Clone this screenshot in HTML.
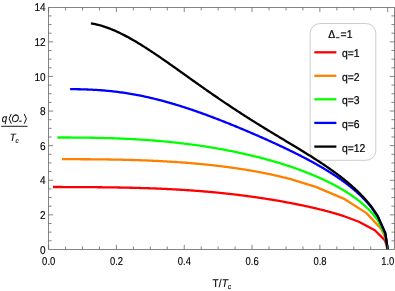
<!DOCTYPE html>
<html><head><meta charset="utf-8"><title>plot</title>
<style>
html,body{margin:0;padding:0;background:#fff;}
body{width:395px;height:291px;overflow:hidden;position:relative;font-family:"Liberation Sans",sans-serif;}
</style></head><body>
<svg width="395" height="291" viewBox="0 0 395 291" style="position:absolute;left:0;top:0;will-change:transform;filter:blur(0.35px)">
<rect width="395" height="291" fill="#fff"/><style>text{text-rendering:geometricPrecision}</style>
<rect x="310.2" y="23.55" width="65.6" height="136.75" rx="9.7" ry="9.7" fill="#fff" stroke="#cccccc" stroke-width="1"/>
<clipPath id="c"><rect x="48" y="7" width="347" height="243"/></clipPath>
<g clip-path="url(#c)" fill="none" stroke-width="2.3" stroke-linejoin="round">
<path d="M53.00,187.01 L54.68,187.01 L56.35,187.01 L58.01,187.02 L59.68,187.02 L61.34,187.02 L62.99,187.03 L64.64,187.03 L66.29,187.03 L67.93,187.04 L69.57,187.04 L71.20,187.05 L72.83,187.06 L74.45,187.06 L76.08,187.07 L77.69,187.08 L79.30,187.09 L80.91,187.10 L82.52,187.10 L84.12,187.11 L85.71,187.12 L87.30,187.14 L88.89,187.15 L90.47,187.16 L92.05,187.17 L93.63,187.18 L95.20,187.20 L96.77,187.21 L98.33,187.23 L99.89,187.24 L101.44,187.26 L102.99,187.28 L104.53,187.29 L106.07,187.31 L107.61,187.33 L109.14,187.35 L110.67,187.37 L112.20,187.40 L113.72,187.42 L115.23,187.44 L116.74,187.47 L118.25,187.49 L119.75,187.52 L121.25,187.54 L122.75,187.57 L124.24,187.60 L125.73,187.63 L127.21,187.66 L128.69,187.70 L130.16,187.73 L131.63,187.76 L133.09,187.80 L134.56,187.83 L136.01,187.87 L137.46,187.91 L138.91,187.95 L140.36,187.99 L141.80,188.03 L143.23,188.08 L144.67,188.12 L146.09,188.17 L147.52,188.21 L148.94,188.26 L150.35,188.31 L151.76,188.36 L153.17,188.41 L154.57,188.47 L155.97,188.52 L157.36,188.58 L158.75,188.64 L160.14,188.69 L161.52,188.75 L162.90,188.81 L164.27,188.88 L165.64,188.94 L167.00,189.01 L168.36,189.07 L169.72,189.14 L171.07,189.21 L172.42,189.28 L173.76,189.35 L175.10,189.42 L176.43,189.50 L177.77,189.57 L179.09,189.65 L180.41,189.73 L181.73,189.81 L183.05,189.89 L184.36,189.97 L185.66,190.06 L186.96,190.14 L188.26,190.23 L189.55,190.32 L190.84,190.41 L192.13,190.50 L193.41,190.59 L194.68,190.68 L195.96,190.78 L197.22,190.87 L198.49,190.97 L199.75,191.07 L201.00,191.17 L202.25,191.27 L203.50,191.37 L204.74,191.48 L205.98,191.58 L207.21,191.69 L208.44,191.80 L209.67,191.90 L210.89,192.01 L212.11,192.13 L213.32,192.24 L214.53,192.35 L215.73,192.47 L216.93,192.58 L218.13,192.70 L219.32,192.82 L220.51,192.94 L221.69,193.06 L222.87,193.18 L224.05,193.31 L225.22,193.43 L226.39,193.55 L227.55,193.68 L228.71,193.81 L229.86,193.94 L231.01,194.07 L232.16,194.20 L233.30,194.33 L234.44,194.46 L235.57,194.60 L236.70,194.73 L237.82,194.87 L238.94,195.01 L240.06,195.14 L241.17,195.28 L242.28,195.42 L243.38,195.56 L244.48,195.70 L245.58,195.85 L246.67,195.99 L247.76,196.14 L248.84,196.28 L249.92,196.43 L250.99,196.57 L252.06,196.72 L253.13,196.87 L254.19,197.02 L255.25,197.17 L256.30,197.32 L257.35,197.47 L258.40,197.63 L259.44,197.78 L260.47,197.93 L261.51,198.09 L262.53,198.24 L263.56,198.40 L264.58,198.56 L265.59,198.72 L266.60,198.87 L267.61,199.03 L268.61,199.19 L269.61,199.35 L270.61,199.51 L271.60,199.68 L272.58,199.84 L273.56,200.00 L274.54,200.17 L275.52,200.33 L276.48,200.49 L277.45,200.66 L278.41,200.83 L279.37,200.99 L280.32,201.16 L281.27,201.33 L282.21,201.49 L283.15,201.66 L284.09,201.83 L285.02,202.00 L285.95,202.17 L286.87,202.34 L287.79,202.51 L288.70,202.68 L289.61,202.86 L290.52,203.03 L291.42,203.20 L292.32,203.37 L293.21,203.55 L294.10,203.72 L294.99,203.90 L295.87,204.07 L296.74,204.25 L297.62,204.42 L298.48,204.60 L299.35,204.78 L300.21,204.95 L301.06,205.13 L301.91,205.31 L302.76,205.49 L303.61,205.66 L304.44,205.84 L305.28,206.02 L306.11,206.20 L306.94,206.38 L307.76,206.56 L308.58,206.74 L309.39,206.92 L310.20,207.11 L311.00,207.29 L311.80,207.47 L312.60,207.65 L313.39,207.84 L314.18,208.02 L314.97,208.20 L315.75,208.39 L316.52,208.57 L317.29,208.75 L318.06,208.94 L318.82,209.12 L319.58,209.31 L320.34,209.50 L321.09,209.68 L321.83,209.87 L322.58,210.06 L323.31,210.24 L324.05,210.43 L324.78,210.62 L325.50,210.81 L326.22,211.00 L326.94,211.18 L327.65,211.37 L328.36,211.56 L329.07,211.75 L329.77,211.94 L330.46,212.13 L331.15,212.32 L331.84,212.52 L332.53,212.71 L333.20,212.90 L333.88,213.09 L334.55,213.29 L335.22,213.48 L335.88,213.67 L336.54,213.87 L337.19,214.06 L337.84,214.25 L338.49,214.45 L339.13,214.64 L339.76,214.84 L340.40,215.04 L341.03,215.23 L341.65,215.43 L342.27,215.63 L342.89,215.82 L343.50,216.02 L358.88,221.72 L374.81,230.27 L384.99,240.42 L387.70,249.45" stroke="#ff0000"/>
<path d="M62.00,159.18 L63.63,159.18 L65.26,159.18 L66.88,159.19 L68.50,159.19 L70.11,159.19 L71.72,159.19 L73.33,159.20 L74.93,159.20 L76.53,159.21 L78.12,159.21 L79.71,159.22 L81.30,159.23 L82.88,159.23 L84.46,159.24 L86.03,159.25 L87.60,159.26 L89.16,159.27 L90.72,159.28 L92.28,159.30 L93.83,159.31 L95.38,159.32 L96.93,159.34 L98.47,159.35 L100.00,159.37 L101.54,159.39 L103.06,159.41 L104.59,159.43 L106.11,159.45 L107.62,159.47 L109.14,159.49 L110.64,159.52 L112.15,159.54 L113.65,159.57 L115.14,159.60 L116.63,159.62 L118.12,159.65 L119.60,159.69 L121.08,159.72 L122.56,159.75 L124.03,159.79 L125.50,159.82 L126.96,159.86 L128.42,159.90 L129.87,159.94 L131.32,159.98 L132.77,160.02 L134.21,160.06 L135.65,160.11 L137.08,160.15 L138.51,160.20 L139.94,160.25 L141.36,160.30 L142.78,160.35 L144.19,160.41 L145.60,160.46 L147.01,160.52 L148.41,160.57 L149.81,160.63 L151.20,160.69 L152.59,160.75 L153.97,160.82 L155.36,160.88 L156.73,160.95 L158.11,161.01 L159.47,161.08 L160.84,161.15 L162.20,161.22 L163.56,161.30 L164.91,161.37 L166.26,161.45 L167.60,161.53 L168.94,161.61 L170.28,161.69 L171.61,161.77 L172.94,161.85 L174.26,161.94 L175.58,162.02 L176.89,162.11 L178.21,162.20 L179.51,162.29 L180.82,162.39 L182.12,162.48 L183.41,162.58 L184.70,162.67 L185.99,162.77 L187.27,162.87 L188.55,162.97 L189.82,163.08 L191.09,163.18 L192.36,163.29 L193.62,163.40 L194.88,163.51 L196.14,163.62 L197.39,163.73 L198.63,163.84 L199.87,163.96 L201.11,164.08 L202.34,164.20 L203.57,164.32 L204.80,164.44 L206.02,164.56 L207.24,164.69 L208.45,164.81 L209.66,164.94 L210.87,165.07 L212.07,165.20 L213.26,165.33 L214.46,165.47 L215.64,165.60 L216.83,165.74 L218.01,165.88 L219.19,166.02 L220.36,166.16 L221.53,166.30 L222.69,166.45 L223.85,166.59 L225.01,166.74 L226.16,166.89 L227.31,167.04 L228.45,167.19 L229.59,167.35 L230.72,167.50 L231.86,167.66 L232.98,167.82 L234.11,167.98 L235.23,168.14 L236.34,168.30 L237.45,168.46 L238.56,168.63 L239.66,168.79 L240.76,168.96 L241.85,169.13 L242.94,169.30 L244.03,169.48 L245.11,169.65 L246.19,169.82 L247.27,170.00 L248.34,170.18 L249.40,170.36 L250.46,170.54 L251.52,170.72 L252.57,170.91 L253.62,171.09 L254.67,171.28 L255.71,171.47 L256.75,171.65 L257.78,171.85 L258.81,172.04 L259.83,172.23 L260.86,172.43 L261.87,172.62 L262.89,172.82 L263.89,173.02 L264.90,173.22 L265.90,173.42 L266.90,173.62 L267.89,173.83 L268.88,174.03 L269.86,174.24 L270.84,174.45 L271.82,174.66 L272.79,174.87 L273.75,175.08 L274.72,175.29 L275.68,175.51 L276.63,175.72 L277.58,175.94 L278.53,176.16 L279.47,176.38 L280.41,176.60 L281.35,176.82 L282.28,177.04 L283.21,177.27 L284.13,177.50 L285.05,177.72 L285.96,177.95 L286.87,178.18 L287.78,178.41 L288.68,178.64 L289.58,178.88 L290.47,179.11 L291.36,179.35 L292.25,179.58 L315.81,186.83 L343.62,198.57 L366.51,213.11 L381.26,229.04 L385.67,237.91 L387.70,249.45" stroke="#ff8000"/>
<path d="M57.40,137.49 L59.05,137.49 L60.70,137.49 L62.35,137.49 L63.99,137.50 L65.63,137.50 L67.26,137.51 L68.89,137.52 L70.51,137.52 L72.13,137.53 L73.75,137.54 L75.36,137.55 L76.97,137.57 L78.57,137.58 L80.17,137.59 L81.77,137.61 L83.36,137.63 L84.95,137.65 L86.53,137.67 L88.11,137.69 L89.68,137.71 L91.25,137.74 L92.82,137.76 L94.38,137.79 L95.94,137.82 L97.49,137.85 L99.04,137.89 L100.59,137.92 L102.13,137.96 L103.67,138.00 L105.20,138.04 L106.73,138.08 L108.26,138.13 L109.78,138.17 L111.29,138.22 L112.81,138.27 L114.31,138.32 L115.82,138.38 L117.32,138.43 L118.81,138.49 L120.31,138.55 L121.79,138.61 L123.28,138.68 L124.76,138.75 L126.23,138.81 L127.70,138.88 L129.17,138.96 L130.63,139.03 L132.09,139.11 L133.54,139.19 L135.00,139.27 L136.44,139.35 L137.88,139.44 L139.32,139.53 L140.75,139.62 L142.18,139.71 L143.61,139.80 L145.03,139.90 L146.45,140.00 L147.86,140.10 L149.27,140.20 L150.67,140.30 L152.07,140.41 L153.47,140.52 L154.86,140.63 L156.25,140.75 L157.63,140.86 L159.01,140.98 L160.39,141.10 L161.76,141.22 L163.13,141.34 L164.49,141.47 L165.85,141.60 L167.21,141.73 L168.56,141.86 L169.90,142.00 L171.24,142.13 L172.58,142.27 L173.92,142.41 L175.25,142.56 L176.57,142.70 L177.89,142.85 L179.21,143.00 L180.53,143.15 L181.83,143.30 L183.14,143.46 L184.44,143.62 L185.74,143.78 L187.03,143.94 L188.32,144.10 L189.60,144.27 L190.88,144.43 L192.16,144.60 L193.43,144.77 L194.70,144.95 L195.96,145.12 L197.22,145.30 L198.48,145.48 L199.73,145.66 L200.97,145.84 L202.22,146.03 L203.46,146.21 L204.69,146.40 L205.92,146.59 L207.15,146.78 L208.37,146.98 L209.59,147.17 L210.80,147.37 L212.01,147.57 L213.21,147.77 L214.42,147.97 L215.61,148.18 L216.81,148.38 L217.99,148.59 L219.18,148.80 L220.36,149.01 L221.54,149.23 L222.71,149.44 L223.88,149.66 L225.04,149.87 L226.20,150.09 L227.36,150.32 L228.51,150.54 L229.65,150.76 L230.80,150.99 L231.94,151.22 L233.07,151.45 L234.20,151.68 L235.33,151.91 L236.45,152.14 L237.57,152.38 L238.68,152.61 L239.79,152.85 L240.90,153.09 L242.00,153.33 L243.10,153.58 L244.19,153.82 L245.28,154.07 L246.37,154.31 L247.45,154.56 L248.52,154.81 L249.60,155.06 L250.67,155.32 L251.73,155.57 L252.79,155.83 L253.85,156.08 L254.90,156.34 L255.95,156.60 L256.99,156.86 L258.03,157.12 L259.06,157.39 L260.10,157.65 L261.12,157.92 L262.15,158.19 L263.16,158.46 L264.18,158.73 L265.19,159.00 L266.20,159.27 L267.20,159.54 L268.20,159.82 L269.19,160.09 L270.18,160.37 L271.16,160.65 L272.15,160.93 L273.12,161.21 L274.10,161.49 L275.06,161.78 L276.03,162.06 L276.99,162.35 L277.95,162.63 L278.90,162.92 L279.85,163.21 L280.79,163.50 L281.73,163.79 L282.67,164.08 L283.60,164.38 L284.53,164.67 L285.45,164.97 L286.37,165.26 L287.28,165.56 L288.19,165.86 L289.10,166.16 L290.00,166.46 L290.90,166.76 L291.80,167.07 L292.69,167.37 L293.57,167.68 L294.45,167.98 L295.33,168.29 L296.20,168.60 L297.07,168.91 L297.94,169.22 L298.80,169.53 L299.66,169.84 L300.51,170.16 L301.36,170.47 L302.20,170.78 L303.04,171.10 L303.88,171.42 L304.71,171.74 L305.54,172.05 L306.36,172.37 L307.18,172.70 L308.00,173.02 L308.81,173.34 L309.62,173.66 L310.42,173.99 L311.22,174.31 L312.01,174.64 L312.80,174.97 L313.59,175.30 L314.37,175.63 L315.15,175.96 L315.92,176.29 L316.69,176.62 L317.46,176.95 L318.22,177.29 L318.98,177.62 L319.73,177.96 L320.48,178.29 L321.22,178.63 L321.96,178.97 L322.70,179.31 L323.43,179.65 L324.16,179.99 L324.89,180.33 L325.61,180.67 L326.32,181.01 L327.03,181.36 L327.74,181.70 L328.44,182.05 L329.14,182.39 L329.84,182.74 L330.53,183.09 L331.22,183.44 L331.90,183.79 L332.58,184.14 L333.25,184.49 L333.92,184.84 L334.59,185.19 L335.25,185.55 L335.91,185.90 L336.56,186.26 L337.21,186.61 L337.85,186.97 L338.50,187.33 L339.13,187.69 L339.77,188.05 L340.39,188.41 L341.02,188.77 L341.64,189.13 L342.25,189.49 L342.87,189.85 L343.47,190.22 L344.08,190.58 L344.68,190.95 L345.27,191.31 L345.87,191.68 L346.45,192.05 L347.04,192.42 L347.61,192.79 L348.19,193.16 L348.76,193.53 L349.33,193.90 L349.89,194.27 L350.45,194.64 L351.00,195.02 L351.55,195.39 L352.10,195.77 L352.64,196.14 L353.17,196.52 L353.71,196.89 L354.24,197.27 L354.76,197.65 L355.28,198.03 L355.80,198.41 L356.31,198.79 L356.82,199.17 L357.32,199.55 L357.82,199.94 L358.32,200.32 L358.81,200.70 L359.30,201.09 L359.78,201.47 L360.26,201.86 L360.74,202.25 L361.21,202.63 L361.67,203.02 L362.14,203.41 L362.60,203.80 L363.05,204.19 L363.50,204.58 L363.95,204.97 L364.39,205.36 L364.83,205.75 L365.26,206.15 L365.69,206.54 L366.11,206.93 L366.54,207.33 L366.95,207.73 L367.37,208.12 L367.77,208.52 L368.18,208.92 L368.58,209.31 L368.98,209.71 L369.37,210.11 L369.76,210.51 L370.14,210.91 L370.52,211.31 L370.89,211.71 L371.27,212.11 L371.63,212.52 L372.00,212.92 L372.36,213.32 L377.80,220.23 L385.33,235.00 L387.70,249.45" stroke="#00ff00"/>
<path d="M70.10,89.13 L71.69,89.14 L73.28,89.16 L74.86,89.18 L76.44,89.20 L78.01,89.23 L79.58,89.26 L81.15,89.29 L82.71,89.34 L84.27,89.38 L85.82,89.43 L87.37,89.49 L88.92,89.55 L90.46,89.62 L92.00,89.70 L93.53,89.78 L95.06,89.86 L96.59,89.95 L98.11,90.05 L99.63,90.16 L101.14,90.27 L102.65,90.39 L104.16,90.51 L105.66,90.64 L107.16,90.78 L108.65,90.92 L110.14,91.07 L111.63,91.23 L113.11,91.39 L114.59,91.56 L116.06,91.73 L117.53,91.91 L119.00,92.10 L120.46,92.30 L121.92,92.50 L123.38,92.71 L124.83,92.92 L126.27,93.14 L127.71,93.37 L129.15,93.60 L130.59,93.84 L132.02,94.08 L133.44,94.33 L134.87,94.59 L136.28,94.85 L137.70,95.12 L139.11,95.39 L140.52,95.67 L141.92,95.96 L143.32,96.24 L144.71,96.54 L146.10,96.84 L147.49,97.15 L148.87,97.46 L150.25,97.77 L151.62,98.09 L152.99,98.42 L154.36,98.75 L155.72,99.08 L157.08,99.42 L158.44,99.76 L159.79,100.11 L161.13,100.46 L162.48,100.82 L163.82,101.18 L165.15,101.54 L166.48,101.91 L167.81,102.28 L169.13,102.66 L170.45,103.03 L171.76,103.42 L173.07,103.80 L174.38,104.19 L175.68,104.58 L176.98,104.98 L178.28,105.37 L179.57,105.77 L180.85,106.18 L182.14,106.58 L183.42,106.99 L184.69,107.40 L185.96,107.81 L187.23,108.23 L188.49,108.65 L189.75,109.07 L191.00,109.49 L192.26,109.91 L193.50,110.34 L194.75,110.77 L195.98,111.20 L197.22,111.63 L198.45,112.06 L199.68,112.50 L200.90,112.93 L202.12,113.37 L203.33,113.81 L204.54,114.25 L205.75,114.69 L206.95,115.13 L208.15,115.57 L209.35,116.02 L210.54,116.46 L211.73,116.91 L212.91,117.36 L214.09,117.80 L215.26,118.25 L216.43,118.70 L217.60,119.15 L218.76,119.60 L219.92,120.05 L221.08,120.50 L222.23,120.95 L223.38,121.40 L224.52,121.86 L225.66,122.31 L226.79,122.76 L227.93,123.21 L229.05,123.67 L230.18,124.12 L231.29,124.57 L232.41,125.02 L233.52,125.48 L234.63,125.93 L235.73,126.38 L236.83,126.83 L237.93,127.29 L239.02,127.74 L240.10,128.19 L241.19,128.64 L242.27,129.09 L243.34,129.54 L244.41,129.99 L245.48,130.44 L246.54,130.89 L247.60,131.34 L248.66,131.79 L249.71,132.24 L250.76,132.69 L251.80,133.14 L252.84,133.59 L253.88,134.04 L254.91,134.48 L255.93,134.93 L256.96,135.37 L257.98,135.82 L258.99,136.27 L260.00,136.71 L261.01,137.15 L262.02,137.60 L263.01,138.04 L264.01,138.48 L265.00,138.92 L265.99,139.37 L266.97,139.81 L267.95,140.25 L268.93,140.69 L269.90,141.13 L270.87,141.57 L271.83,142.00 L272.79,142.44 L273.75,142.88 L274.70,143.32 L275.64,143.75 L276.59,144.19 L277.53,144.62 L278.46,145.06 L279.40,145.49 L280.32,145.93 L281.25,146.36 L282.17,146.79 L283.08,147.23 L283.99,147.66 L284.90,148.09 L285.81,148.52 L286.71,148.95 L287.60,149.38 L288.49,149.81 L289.38,150.24 L290.26,150.67 L291.14,151.10 L292.02,151.53 L292.89,151.96 L293.76,152.39 L294.62,152.81 L295.48,153.24 L296.34,153.67 L297.19,154.09 L298.04,154.52 L298.88,154.95 L299.72,155.37 L300.56,155.80 L301.39,156.22 L302.22,156.65 L303.04,157.08 L303.86,157.50 L304.68,157.93 L305.49,158.35 L306.30,158.77 L307.10,159.20 L307.90,159.62 L308.70,160.05 L309.49,160.47 L310.28,160.90 L311.06,161.32 L311.84,161.74 L312.62,162.17 L313.39,162.59 L314.16,163.02 L314.92,163.44 L315.68,163.86 L316.44,164.29 L317.19,164.71 L317.94,165.14 L318.68,165.56 L319.42,165.98 L320.16,166.41 L320.89,166.83 L321.62,167.26 L322.34,167.68 L323.06,168.11 L323.78,168.53 L324.49,168.96 L325.20,169.38 L325.90,169.81 L326.60,170.23 L327.30,170.66 L327.99,171.08 L328.68,171.51 L329.37,171.94 L330.05,172.36 L330.72,172.79 L331.39,173.22 L332.06,173.65 L332.73,174.07 L333.39,174.50 L334.04,174.93 L334.70,175.36 L335.34,175.79 L335.99,176.22 L336.63,176.64 L337.27,177.07 L337.90,177.50 L338.53,177.93 L339.15,178.37 L339.77,178.80 L340.39,179.23 L341.00,179.66 L341.61,180.09 L342.21,180.52 L342.81,180.96 L343.41,181.39 L344.00,181.82 L344.59,182.26 L345.18,182.69 L345.76,183.13 L346.33,183.56 L346.91,184.00 L347.47,184.43 L348.04,184.87 L348.60,185.31 L349.16,185.74 L349.71,186.18 L350.26,186.62 L350.80,187.06 L351.34,187.49 L351.88,187.93 L352.41,188.37 L352.94,188.81 L353.46,189.25 L353.99,189.69 L354.50,190.13 L355.01,190.58 L355.52,191.02 L356.03,191.46 L356.53,191.90 L357.03,192.35 L357.52,192.79 L358.01,193.23 L358.49,193.68 L358.97,194.12 L359.45,194.57 L359.92,195.01 L360.39,195.46 L360.86,195.91 L361.32,196.35 L361.77,196.80 L362.23,197.25 L362.68,197.69 L363.12,198.14 L363.56,198.59 L364.00,199.04 L364.43,199.49 L364.86,199.94 L365.28,200.39 L365.71,200.84 L366.12,201.29 L366.54,201.74 L366.94,202.19 L367.35,202.65 L367.75,203.10 L368.15,203.55 L368.54,204.00 L368.93,204.46 L369.31,204.91 L369.70,205.37 L370.07,205.82 L370.45,206.27 L370.81,206.73 L371.18,207.19 L371.54,207.64 L371.90,208.10 L372.25,208.55 L377.80,216.61 L385.33,233.31 L387.70,249.45" stroke="#0000ff"/>
<path d="M90.90,23.34 L92.39,23.59 L93.87,23.87 L95.35,24.17 L96.82,24.51 L98.29,24.87 L99.76,25.26 L101.22,25.68 L102.68,26.12 L104.14,26.58 L105.59,27.07 L107.04,27.58 L108.48,28.11 L109.93,28.66 L111.36,29.23 L112.80,29.82 L114.23,30.43 L115.65,31.05 L117.07,31.70 L118.49,32.36 L119.91,33.03 L121.32,33.72 L122.73,34.42 L124.13,35.14 L125.53,35.87 L126.93,36.61 L128.32,37.36 L129.71,38.13 L131.09,38.90 L132.48,39.69 L133.85,40.48 L135.23,41.29 L136.60,42.10 L137.96,42.92 L139.33,43.75 L140.69,44.58 L142.04,45.42 L143.39,46.27 L144.74,47.12 L146.09,47.98 L147.43,48.85 L148.76,49.71 L150.10,50.59 L151.42,51.46 L152.75,52.34 L154.07,53.22 L155.39,54.11 L156.70,55.00 L158.02,55.89 L159.32,56.78 L160.63,57.67 L161.92,58.57 L163.22,59.46 L164.51,60.36 L165.80,61.26 L167.09,62.15 L168.37,63.05 L169.64,63.95 L170.92,64.84 L172.19,65.74 L173.45,66.64 L174.71,67.53 L175.97,68.42 L177.23,69.31 L178.48,70.20 L179.73,71.09 L180.97,71.97 L182.21,72.86 L183.44,73.74 L184.68,74.62 L185.91,75.49 L187.13,76.37 L188.35,77.24 L189.57,78.11 L190.78,78.97 L191.99,79.83 L193.20,80.69 L194.40,81.54 L195.60,82.40 L196.79,83.24 L197.99,84.09 L199.17,84.93 L200.36,85.76 L201.54,86.60 L202.71,87.42 L203.89,88.25 L205.06,89.07 L206.22,89.89 L207.38,90.70 L208.54,91.51 L209.69,92.31 L210.84,93.11 L211.99,93.91 L213.13,94.70 L214.27,95.48 L215.41,96.26 L216.54,97.04 L217.67,97.82 L218.79,98.58 L219.91,99.35 L221.03,100.11 L222.14,100.86 L223.25,101.61 L224.36,102.36 L225.46,103.10 L226.56,103.84 L227.65,104.57 L228.74,105.30 L229.83,106.03 L230.91,106.75 L231.99,107.46 L233.07,108.17 L234.14,108.88 L235.21,109.58 L236.27,110.28 L237.33,110.97 L238.39,111.66 L239.44,112.34 L240.49,113.02 L241.54,113.70 L242.58,114.37 L243.62,115.04 L244.65,115.70 L245.68,116.36 L246.71,117.02 L247.74,117.67 L248.75,118.32 L249.77,118.96 L250.78,119.60 L251.79,120.24 L252.80,120.87 L253.80,121.49 L254.80,122.12 L255.79,122.74 L256.78,123.36 L257.77,123.97 L258.75,124.58 L259.73,125.18 L260.70,125.79 L261.67,126.39 L262.64,126.98 L263.60,127.57 L264.56,128.16 L265.52,128.75 L266.47,129.33 L267.42,129.91 L268.37,130.49 L269.31,131.06 L270.25,131.63 L271.18,132.20 L272.11,132.76 L273.04,133.32 L273.96,133.88 L274.88,134.44 L275.79,134.99 L276.71,135.54 L277.61,136.09 L278.52,136.63 L279.42,137.17 L280.32,137.71 L281.21,138.25 L282.10,138.79 L282.98,139.32 L283.87,139.85 L284.74,140.38 L285.62,140.90 L286.49,141.43 L287.36,141.95 L288.22,142.47 L289.08,142.99 L289.93,143.50 L290.79,144.01 L291.63,144.53 L292.48,145.04 L293.32,145.54 L294.16,146.05 L294.99,146.55 L295.82,147.06 L296.65,147.56 L297.47,148.06 L298.29,148.55 L299.10,149.05 L299.91,149.54 L300.72,150.04 L301.52,150.53 L302.32,151.02 L303.12,151.51 L303.91,152.00 L304.70,152.48 L305.48,152.97 L306.27,153.45 L307.04,153.93 L307.82,154.42 L308.59,154.90 L309.35,155.38 L310.11,155.85 L310.87,156.33 L311.63,156.81 L312.38,157.28 L313.13,157.76 L313.87,158.23 L314.61,158.70 L315.35,159.18 L316.08,159.65 L316.81,160.12 L317.53,160.59 L318.26,161.06 L318.97,161.52 L319.69,161.99 L320.40,162.46 L321.10,162.93 L321.81,163.39 L322.51,163.86 L323.20,164.32 L323.89,164.79 L324.58,165.25 L325.27,165.71 L325.95,166.17 L326.62,166.64 L327.30,167.10 L327.97,167.56 L328.63,168.02 L329.29,168.48 L329.95,168.94 L330.61,169.40 L331.26,169.86 L331.90,170.32 L332.55,170.78 L333.19,171.24 L333.82,171.70 L334.45,172.16 L335.08,172.62 L335.71,173.07 L336.33,173.53 L336.94,173.99 L337.56,174.45 L338.17,174.90 L338.77,175.36 L339.38,175.82 L339.97,176.28 L340.57,176.73 L341.16,177.19 L341.75,177.65 L342.33,178.10 L342.91,178.56 L343.49,179.02 L344.06,179.47 L344.63,179.93 L345.19,180.39 L345.75,180.84 L346.31,181.30 L346.86,181.75 L347.41,182.21 L347.96,182.67 L348.50,183.12 L349.04,183.58 L349.58,184.04 L350.11,184.49 L350.64,184.95 L351.16,185.41 L351.68,185.86 L352.20,186.32 L352.71,186.77 L353.22,187.23 L353.72,187.69 L354.22,188.14 L354.72,188.60 L355.22,189.06 L355.71,189.51 L356.19,189.97 L356.68,190.43 L357.16,190.89 L357.63,191.34 L358.10,191.80 L358.57,192.26 L359.03,192.71 L359.49,193.17 L359.95,193.63 L360.40,194.09 L360.85,194.54 L361.30,195.00 L361.74,195.46 L362.18,195.92 L362.61,196.37 L363.04,196.83 L363.47,197.29 L363.89,197.75 L364.31,198.20 L364.73,198.66 L365.14,199.12 L365.55,199.58 L365.95,200.04 L366.36,200.49 L366.75,200.95 L367.15,201.41 L367.54,201.87 L367.92,202.33 L368.30,202.79 L368.68,203.24 L369.06,203.70 L369.43,204.16 L369.80,204.62 L370.16,205.08 L370.52,205.54 L370.87,205.99 L371.23,206.45 L371.58,206.91 L371.92,207.37 L372.26,207.83 L377.80,216.14 L385.33,233.17 L387.70,249.45" stroke="#000000"/>
</g>
<g stroke="#666666" stroke-width="0.8" fill="none" shape-rendering="auto">
<rect x="48.6" y="7.45" width="345.84999999999997" height="242.0"/>
<path d="M48.60,249.45 v-4.6 M48.60,7.45 v4.6"/>
<path d="M65.56,249.45 v-3.0 M65.56,7.45 v3.0"/>
<path d="M82.51,249.45 v-3.0 M82.51,7.45 v3.0"/>
<path d="M99.47,249.45 v-3.0 M99.47,7.45 v3.0"/>
<path d="M116.42,249.45 v-4.6 M116.42,7.45 v4.6"/>
<path d="M133.38,249.45 v-3.0 M133.38,7.45 v3.0"/>
<path d="M150.33,249.45 v-3.0 M150.33,7.45 v3.0"/>
<path d="M167.28,249.45 v-3.0 M167.28,7.45 v3.0"/>
<path d="M184.24,249.45 v-4.6 M184.24,7.45 v4.6"/>
<path d="M201.19,249.45 v-3.0 M201.19,7.45 v3.0"/>
<path d="M218.15,249.45 v-3.0 M218.15,7.45 v3.0"/>
<path d="M235.10,249.45 v-3.0 M235.10,7.45 v3.0"/>
<path d="M252.06,249.45 v-4.6 M252.06,7.45 v4.6"/>
<path d="M269.01,249.45 v-3.0 M269.01,7.45 v3.0"/>
<path d="M285.97,249.45 v-3.0 M285.97,7.45 v3.0"/>
<path d="M302.93,249.45 v-3.0 M302.93,7.45 v3.0"/>
<path d="M319.88,249.45 v-4.6 M319.88,7.45 v4.6"/>
<path d="M336.84,249.45 v-3.0 M336.84,7.45 v3.0"/>
<path d="M353.79,249.45 v-3.0 M353.79,7.45 v3.0"/>
<path d="M370.75,249.45 v-3.0 M370.75,7.45 v3.0"/>
<path d="M387.70,249.45 v-4.6 M387.70,7.45 v4.6"/>
<path d="M48.6,240.80 h3.0 M394.45,240.80 h-3.0"/>
<path d="M48.6,232.15 h3.0 M394.45,232.15 h-3.0"/>
<path d="M48.6,223.50 h3.0 M394.45,223.50 h-3.0"/>
<path d="M48.6,214.85 h4.6 M394.45,214.85 h-4.6"/>
<path d="M48.6,206.20 h3.0 M394.45,206.20 h-3.0"/>
<path d="M48.6,197.55 h3.0 M394.45,197.55 h-3.0"/>
<path d="M48.6,188.90 h3.0 M394.45,188.90 h-3.0"/>
<path d="M48.6,180.25 h4.6 M394.45,180.25 h-4.6"/>
<path d="M48.6,171.60 h3.0 M394.45,171.60 h-3.0"/>
<path d="M48.6,162.95 h3.0 M394.45,162.95 h-3.0"/>
<path d="M48.6,154.30 h3.0 M394.45,154.30 h-3.0"/>
<path d="M48.6,145.65 h4.6 M394.45,145.65 h-4.6"/>
<path d="M48.6,137.00 h3.0 M394.45,137.00 h-3.0"/>
<path d="M48.6,128.35 h3.0 M394.45,128.35 h-3.0"/>
<path d="M48.6,119.70 h3.0 M394.45,119.70 h-3.0"/>
<path d="M48.6,111.05 h4.6 M394.45,111.05 h-4.6"/>
<path d="M48.6,102.40 h3.0 M394.45,102.40 h-3.0"/>
<path d="M48.6,93.75 h3.0 M394.45,93.75 h-3.0"/>
<path d="M48.6,85.10 h3.0 M394.45,85.10 h-3.0"/>
<path d="M48.6,76.45 h4.6 M394.45,76.45 h-4.6"/>
<path d="M48.6,67.80 h3.0 M394.45,67.80 h-3.0"/>
<path d="M48.6,59.15 h3.0 M394.45,59.15 h-3.0"/>
<path d="M48.6,50.50 h3.0 M394.45,50.50 h-3.0"/>
<path d="M48.6,41.85 h4.6 M394.45,41.85 h-4.6"/>
<path d="M48.6,33.20 h3.0 M394.45,33.20 h-3.0"/>
<path d="M48.6,24.55 h3.0 M394.45,24.55 h-3.0"/>
<path d="M48.6,15.90 h3.0 M394.45,15.90 h-3.0"/>
</g>
<g font-family="Liberation Sans, sans-serif" fill="#000" stroke="#000" stroke-width="0.12">
<text transform="translate(48.70,264.80) scale(0.83,1)" font-size="11.4" text-anchor="middle">0.0</text>
<text transform="translate(116.52,264.80) scale(0.83,1)" font-size="11.4" text-anchor="middle">0.2</text>
<text transform="translate(184.34,264.80) scale(0.83,1)" font-size="11.4" text-anchor="middle">0.4</text>
<text transform="translate(252.16,264.80) scale(0.83,1)" font-size="11.4" text-anchor="middle">0.6</text>
<text transform="translate(319.98,264.80) scale(0.83,1)" font-size="11.4" text-anchor="middle">0.8</text>
<text transform="translate(387.80,264.80) scale(0.83,1)" font-size="11.4" text-anchor="middle">1.0</text>
<text transform="translate(45.60,253.50) scale(0.88,1)" font-size="11.4" text-anchor="end">0</text>
<text transform="translate(45.60,218.90) scale(0.88,1)" font-size="11.4" text-anchor="end">2</text>
<text transform="translate(45.60,184.30) scale(0.88,1)" font-size="11.4" text-anchor="end">4</text>
<text transform="translate(45.60,149.70) scale(0.88,1)" font-size="11.4" text-anchor="end">6</text>
<text transform="translate(45.60,115.10) scale(0.88,1)" font-size="11.4" text-anchor="end">8</text>
<text transform="translate(45.60,80.50) scale(0.88,1)" font-size="11.4" text-anchor="end">10</text>
<text transform="translate(45.60,45.90) scale(0.88,1)" font-size="11.4" text-anchor="end">12</text>
<text transform="translate(45.60,11.30) scale(0.88,1)" font-size="11.4" text-anchor="end">14</text>
<text transform="translate(212.60,287.00) scale(0.9,1)" font-size="11.3" text-anchor="start">T/<tspan font-style="italic">T</tspan><tspan font-style="italic" font-size="7.5" dy="2">c</tspan></text>
<text transform="translate(1.70,122.40) scale(0.92,1)" font-size="10.6" text-anchor="start"><tspan font-style="italic">q</tspan></text>
<text transform="translate(11.60,122.40) scale(0.92,1)" font-size="10.6" text-anchor="start"><tspan font-style="italic">O</tspan></text>
<path d="M11.3,113.9 L9.1,118.8 L11.3,123.7 M24.2,113.9 L26.4,118.8 L24.2,123.7 M19.1,121.2 H21.7" fill="none" stroke="#000" stroke-width="0.95"/>
<text transform="translate(9.80,141.30) scale(0.92,1)" font-size="10.6" text-anchor="start"><tspan font-style="italic">T</tspan><tspan font-style="italic" font-size="7" dy="2" dx="-0.4">c</tspan></text>
</g>
<path d="M1.2,126.3 H27.5" stroke="#000" stroke-width="0.9"/>
<g font-family="Liberation Sans, sans-serif" fill="#000" stroke="#000" stroke-width="0.22">
<text transform="translate(328.30,38.20) scale(0.92,1)" font-size="11.3" text-anchor="start">Δ</text>
<text transform="translate(340.60,38.20) scale(0.92,1)" font-size="11.3" text-anchor="start">=1</text>
<path d="M335.9,37.7 H339.5" fill="none" stroke="#000" stroke-width="0.9"/>
<path d="M314.3,52.3 H336.4" stroke="#ff0000" stroke-width="2.3"/>
<text transform="translate(341.90,57.30) scale(0.92,1)" font-size="11.3" text-anchor="start">q=1</text>
<path d="M314.3,75.8 H336.4" stroke="#ff8000" stroke-width="2.3"/>
<text transform="translate(341.90,80.80) scale(0.92,1)" font-size="11.3" text-anchor="start">q=2</text>
<path d="M314.3,99.3 H336.4" stroke="#00ff00" stroke-width="2.3"/>
<text transform="translate(341.90,104.30) scale(0.92,1)" font-size="11.3" text-anchor="start">q=3</text>
<path d="M314.3,122.9 H336.4" stroke="#0000ff" stroke-width="2.3"/>
<text transform="translate(341.90,127.90) scale(0.92,1)" font-size="11.3" text-anchor="start">q=6</text>
<path d="M314.3,146.6 H336.4" stroke="#000000" stroke-width="2.3"/>
<text transform="translate(341.90,151.60) scale(0.92,1)" font-size="11.3" text-anchor="start">q=12</text>
</g>
</svg>
</body></html>
